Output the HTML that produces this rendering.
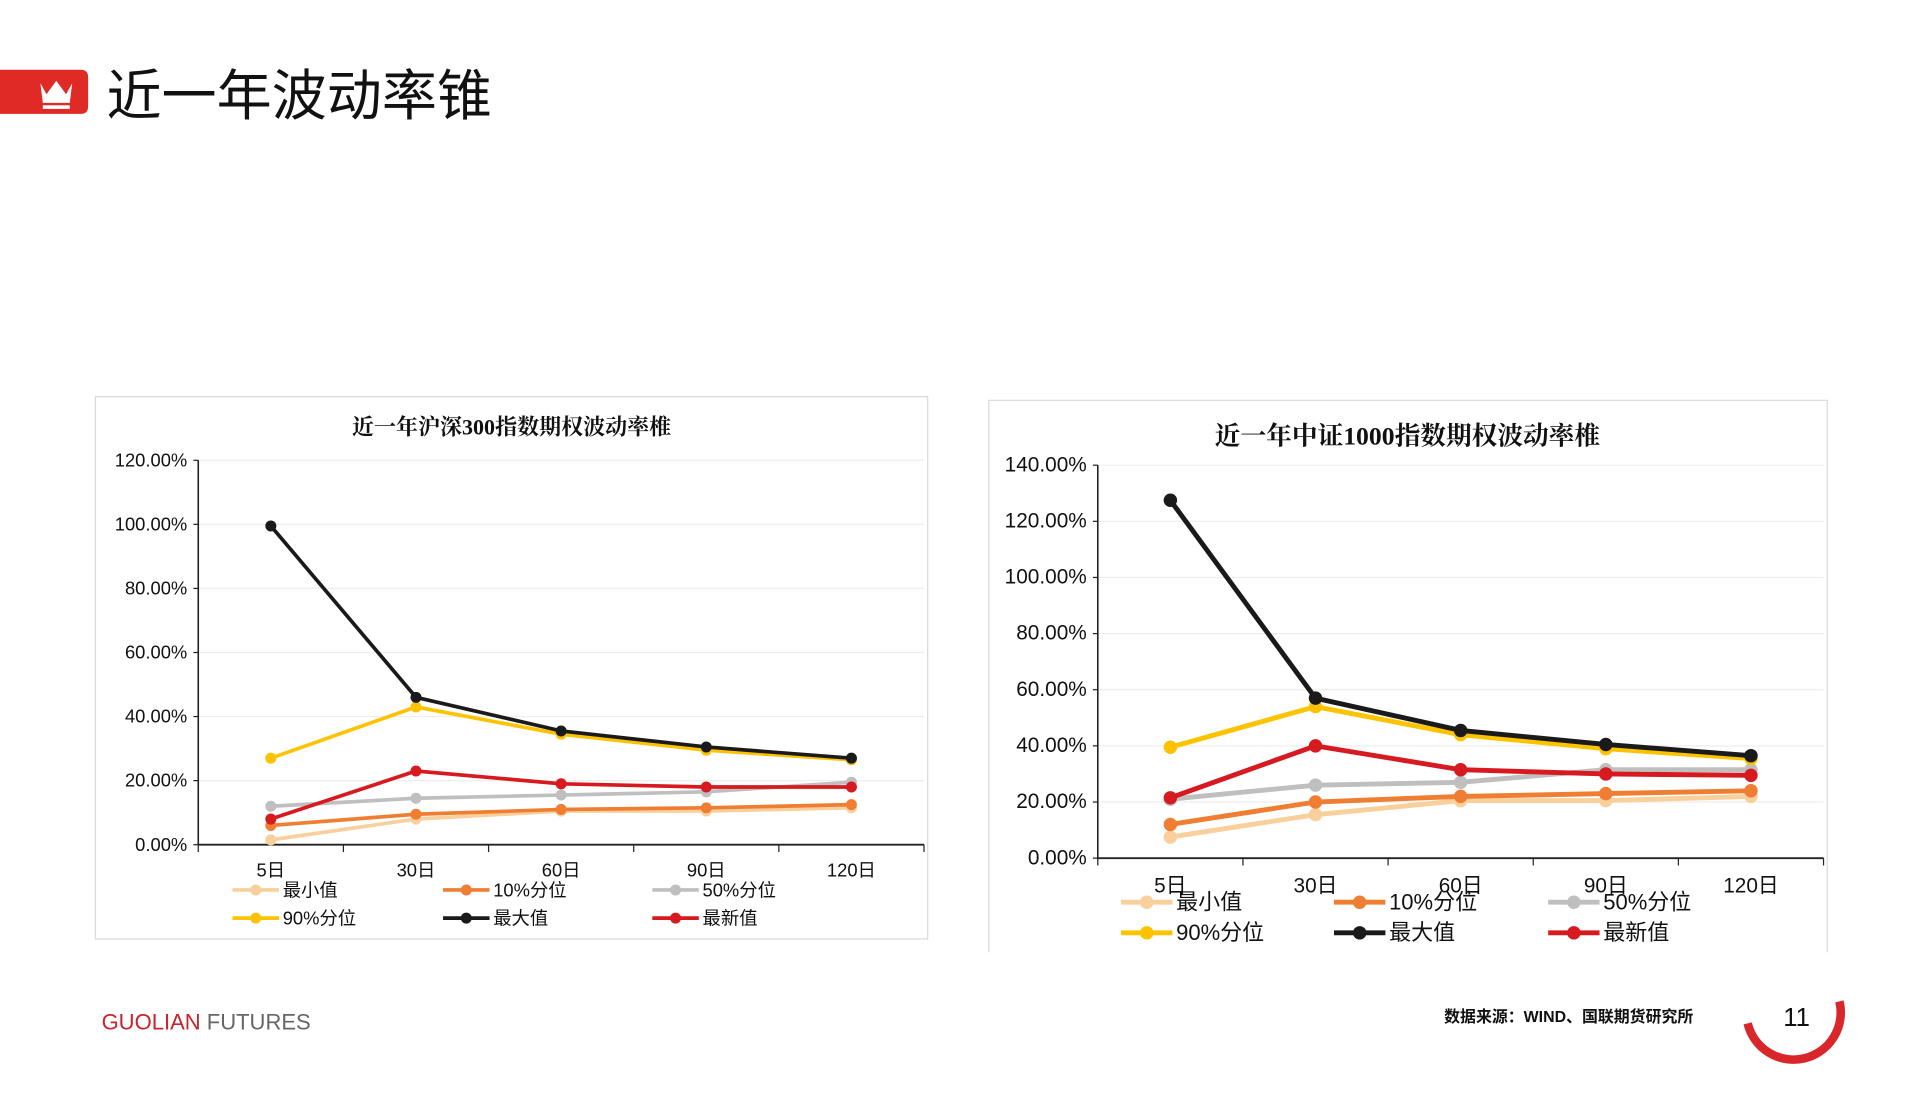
<!DOCTYPE html>
<html><head><meta charset="utf-8"><style>
html,body{margin:0;padding:0;background:#fff;}
svg{display:block;font-family:"Liberation Sans","Noto Sans CJK SC",sans-serif;}
</style></head><body>
<svg id="s" width="1919" height="1114" viewBox="0 0 1568 910" preserveAspectRatio="none" xmlns="http://www.w3.org/2000/svg">
<g>
<path d="M0 57 H66 Q72 57 72 63 V87 Q72 93 66 93 H0 Z" fill="#e02a26"/>
<path d="M33 68 L38 77 L46 66 L54 77 L59 68 L57 84 H35 Z" fill="#fff"/>
<rect x="35" y="86" width="22" height="3" fill="#fff"/>
<text x="87" y="94" font-size="45" fill="#111" font-family="Noto Sans CJK SC,sans-serif">近一年波动率锥</text>
</g>
<rect x="78" y="324" width="680" height="443" fill="#fff" stroke="#d9d9d9"/>
<path d="M808 778 V327 H1493 V778" fill="none" stroke="#d9d9d9"/>
<g id="c1"></g><g id="c2"></g>
<text x="83" y="841" font-size="18" fill="#c8242b">GUOLIAN <tspan fill="#666">FUTURES</tspan></text>
<text x="1180" y="835" font-size="13" font-weight="bold" fill="#111">数据来源：WIND、国联期货研究所</text>
<path d="M1428 836 A38 38 0 0 0 1503 818" fill="none" stroke="#d9262b" stroke-width="7"/>
<text x="1468" y="838" font-size="21" text-anchor="middle" fill="#111">11</text>
</svg>
<script>
const cats=["5日","30日","60日","90日","120日"];
const names=["最小值","10%分位","50%分位","90%分位","最大值","最新值"];
const colors=["#f9cf9c","#ef7d32","#bfbfbf","#fdc300","#1a1a1a","#d71920"];
const leftMin=[1.5,8,10.5,10.5,11.5];
const leftP10=[6,9.5,11,11.5,12.5];
const leftP50=[12,14.5,15.5,16.5,19.5];
const leftP90=[27,43,34.5,29.5,26.5];
const leftMax=[99.5,46,35.5,30.5,27];
const leftLast=[8,23,19,18,18];
const rightMin=[7.5,15.5,20.5,20.5,22];
const rightP10=[12,20,22,23,24];
const rightP50=[21,26,27,31.5,31.5];
const rightP90=[39.5,54,44,39,35.5];
const rightMax=[127.5,57,45.5,40.5,36.5];
const rightLast=[21.5,40,31.5,30,29.5];
const leftTicks=[0,20,40,60,80,100,120];
const rightTicks=[0,20,40,60,80,100,120,140];
const NS="http://www.w3.org/2000/svg";
function mk(p,t,a){const e=document.createElementNS(NS,t);for(const k in a)e.setAttribute(k,a[k]);p.appendChild(e);return e;}
function chart(g,cfg){
 const x0=cfg.x0,x1=cfg.x1,yb=cfg.yb,yt=cfg.yt,max=cfg.max;
 const step=(x1-x0)/cats.length;
 const X=i=>x0+step*(i+0.5), Y=v=>yb-(v/max)*(yb-yt);
 const t=mk(g,'text',{x:cfg.tx,y:cfg.ty,'font-size':cfg.tfs,'font-weight':'bold','text-anchor':'middle',fill:'#111','font-family':'Liberation Serif,Noto Serif CJK SC,serif'});
 t.textContent=cfg.title;
 cfg.ticks.forEach(v=>{
  const gl=mk(g,'line',{x1:x0,x2:x1,y1:Y(v),y2:Y(v),stroke:'#eeeeee'});
  
  mk(g,'line',{x1:x0-4,x2:x0,y1:Y(v),y2:Y(v),stroke:'#222'});
  const l=mk(g,'text',{x:x0-9,y:Y(v)+5,'font-size':cfg.fs,'text-anchor':'end',fill:'#111'});
  l.textContent=v.toFixed(2)+'%';
 });
 mk(g,'line',{x1:x0,x2:x0,y1:yt,y2:yb,stroke:'#222','stroke-width':1.3});
 mk(g,'line',{x1:x0,x2:x1,y1:yb,y2:yb,stroke:'#222','stroke-width':1.5});
 for(let i=0;i<=cats.length;i++)mk(g,'line',{x1:x0+step*i,x2:x0+step*i,y1:yb,y2:yb+6,stroke:'#222'});
 cats.forEach((c,i)=>{const l=mk(g,'text',{x:X(i),y:cfg.cy,'font-size':cfg.fs,'text-anchor':'middle',fill:'#111'});
  l.textContent=c;});
 cfg.series.forEach((d,si)=>{
  const p=mk(g,'polyline',{points:d.map((v,i)=>X(i)+','+Y(v)).join(' '),fill:'none',stroke:colors[si],'stroke-width':cfg.sw});
  
  d.forEach((v,i)=>{const c=mk(g,'circle',{cx:X(i),cy:Y(v),r:cfg.r,fill:colors[si]});
   });
 });
 names.forEach((n,i)=>{
  const lx=cfg.lx[i%3],ly=cfg.ly[Math.floor(i/3)];
  const lg=mk(g,'g',{});
  
  mk(lg,'line',{x1:lx,x2:lx+cfg.ll,y1:ly,y2:ly,stroke:colors[i],'stroke-width':cfg.sw});
  mk(lg,'circle',{cx:lx+cfg.ll/2,cy:ly,r:cfg.r,fill:colors[i]});
  const tx=mk(lg,'text',{x:lx+cfg.ll+3,y:ly+cfg.fs*0.35,'font-size':cfg.lfs,fill:'#111'});tx.textContent=n;
 });
}
chart(document.getElementById('c1'),{x0:162,x1:755,yb:690,yt:376,max:120,ticks:leftTicks,tx:418,ty:355,tfs:18,title:'近一年沪深300指数期权波动率椎',fs:15,cy:716,sw:3,r:4.5,
 series:[leftMin,leftP10,leftP50,leftP90,leftMax,leftLast],lx:[190,362,533],ly:[727,750],ll:38,lfs:15});
chart(document.getElementById('c2'),{x0:897,x1:1490,yb:701,yt:380,max:140,ticks:rightTicks,tx:1150,ty:363,tfs:21,title:'近一年中证1000指数期权波动率椎',fs:17,cy:729,sw:4,r:5.5,
 series:[rightMin,rightP10,rightP50,rightP90,rightMax,rightLast],lx:[916,1090,1265],ly:[737,762],ll:42,lfs:18});
</script>
</body></html>
